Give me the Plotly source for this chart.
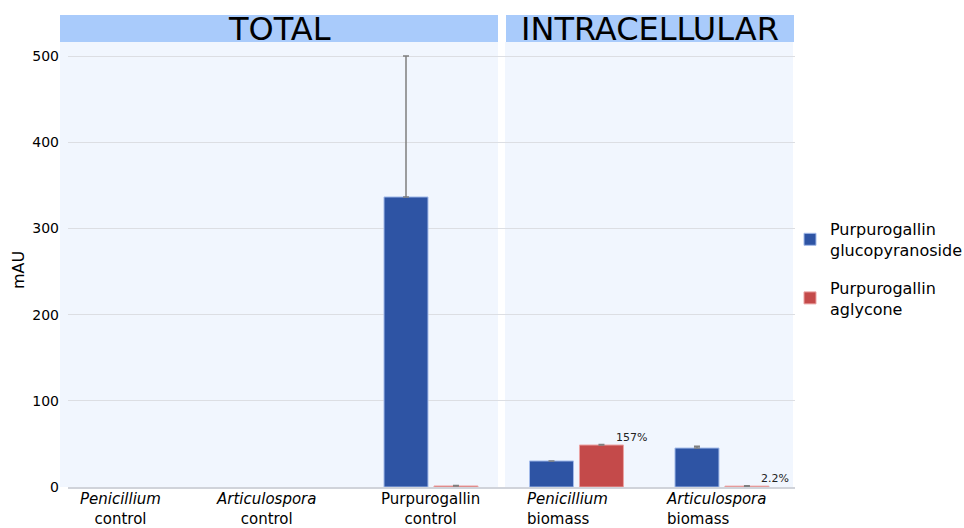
import plotly.graph_objects as go
import numpy as np

# ---- data ----
categories = ["Penicillium control", "Articulospora control", "Purpurogallin control",
              "Penicillium biomass", "Articulospora biomass"]
label_line1 = ["<i>Penicillium</i>", "<i>Articulospora</i>", "Purpurogallin", "<i>Penicillium</i>", "<i>Articulospora</i>"]
label_line2 = ["control", "control", "control", "biomass", "biomass"]
glucopyranoside = [0, 0, 336.5, 30.2, 45.2]
glucopyranoside_err = [0, 0, 163.5, 0, 2.0]
aglycone = [0, 0, 1.2, 48.7, 1.0]
aglycone_err = [0, 0, 0.6, 0.5, 0.4]
pct_labels = {3: "157%", 4: "2.2%"}
y_ticks = [0, 100, 200, 300, 400, 500]
panel_titles = ["TOTAL", "INTRACELLULAR"]

FONT = "DejaVu Sans"
BLUE = "#2E54A4"
RED = "#C44A4A"
BAND = "#A9CBFB"
BG = "#F1F6FE"

x = np.arange(len(categories))


def shown(vals):
    # zero values are not drawn (no bar, no error cap), as in the reference
    return [v if v > 0 else None for v in vals]


fig = go.Figure()
fig.add_trace(go.Bar(
    x=x, y=shown(glucopyranoside), name="Purpurogallin<br>glucopyranoside",
    marker=dict(color=BLUE, line=dict(color="#a3bbea", width=1)),
    error_y=dict(type="data", array=glucopyranoside_err,
                 arrayminus=[0] * 5, symmetric=False,
                 color="#7f7f7f", thickness=1.5, width=3),
    legendgroup="g1",
))
fig.add_trace(go.Bar(
    x=x, y=shown(aglycone), name="Purpurogallin<br>aglycone",
    marker=dict(color=RED, line=dict(color="#eba3a3", width=1)),
    error_y=dict(type="data", array=aglycone_err,
                 arrayminus=[0] * 5, symmetric=False,
                 color="#7f7f7f", thickness=1.5, width=3),
    legendgroup="g2",
))


# plot area: px 68..795 horizontally, 42..487 vertically
def px2paper(px):
    return (px - 68) / 727.0


shapes = [
    dict(type="rect", xref="paper", yref="paper", x0=px2paper(60), x1=px2paper(498), y0=0, y1=1,
         fillcolor=BG, line=dict(width=0), layer="below"),
    dict(type="rect", xref="paper", yref="paper", x0=px2paper(505), x1=px2paper(793), y0=0, y1=1,
         fillcolor=BG, line=dict(width=0), layer="below"),
    dict(type="rect", xref="paper", yref="paper", x0=px2paper(60), x1=px2paper(498), y0=1, y1=1 + 27 / 445,
         fillcolor=BAND, line=dict(width=0), layer="below"),
    dict(type="rect", xref="paper", yref="paper", x0=px2paper(506), x1=px2paper(794), y0=1, y1=1 + 27 / 445,
         fillcolor=BAND, line=dict(width=0), layer="below"),
]

annotations = [
    dict(text=panel_titles[0], xref="paper", yref="paper", x=(px2paper(60) + px2paper(498)) / 2,
         y=1 + 13 / 445, xanchor="center", yanchor="middle", showarrow=False,
         font=dict(family=FONT, size=32, color="black")),
    dict(text=panel_titles[1], xref="paper", yref="paper", x=(px2paper(506) + px2paper(794)) / 2,
         y=1 + 13 / 445, xanchor="center", yanchor="middle", showarrow=False,
         font=dict(family=FONT, size=32, color="black")),
    dict(text="mAU", xref="paper", yref="paper", x=px2paper(18), y=0.4876, textangle=-90,
         xanchor="center", yanchor="middle", showarrow=False,
         font=dict(family=FONT, size=16, color="black")),
]

# category labels: left panel centered, right panel left-aligned
label_offsets = [-0.137, -0.135, -0.005, -0.355, -0.40]
label_anchor = ["center", "center", "center", "left", "left"]
for i in range(len(categories)):
    annotations.append(dict(
        text=label_line1[i] + "<br>" + label_line2[i], xref="x", yref="paper",
        x=x[i] + label_offsets[i], y=-0.003, xanchor=label_anchor[i], yanchor="top",
        align=label_anchor[i] if label_anchor[i] == "left" else "center",
        showarrow=False, font=dict(family=FONT, size=15, color="black")))

for i, t in pct_labels.items():
    annotations.append(dict(
        text=t, xref="x", yref="y", x=x[i] + 0.255, y=aglycone[i],
        xanchor="left", yanchor="bottom", yshift=-1, showarrow=False,
        font=dict(family=FONT, size=11, color="#222222")))

fig.update_layout(
    width=964, height=528,
    margin=dict(l=68, r=169, t=42, b=41, autoexpand=False),
    paper_bgcolor="white", plot_bgcolor="rgba(0,0,0,0)",
    barmode="group", bargap=0.313, bargroupgap=0.12,
    font=dict(family=FONT, size=14, color="black"),
    shapes=shapes, annotations=annotations,
    legend=dict(xref="container", yref="container", x=790 / 964, y=1 - 212 / 528,
                xanchor="left", yanchor="top",
                font=dict(family=FONT, size=16, color="black"),
                tracegroupgap=14, bgcolor="rgba(0,0,0,0)"),
    showlegend=True,
)
fig.update_xaxes(range=[-0.495, 4.502], showticklabels=False, showgrid=False, zeroline=False,
                 showline=True, linecolor="#d0d3da", linewidth=1.5, ticks="")
fig.update_yaxes(range=[0, 516.3], tickvals=y_ticks, showgrid=True, gridcolor="#dcdee3", gridwidth=1,
                 zeroline=False, showline=False, ticks="", ticklabelstandoff=8,
                 tickfont=dict(family=FONT, size=14, color="black"))

fig.write_html("out.html")
